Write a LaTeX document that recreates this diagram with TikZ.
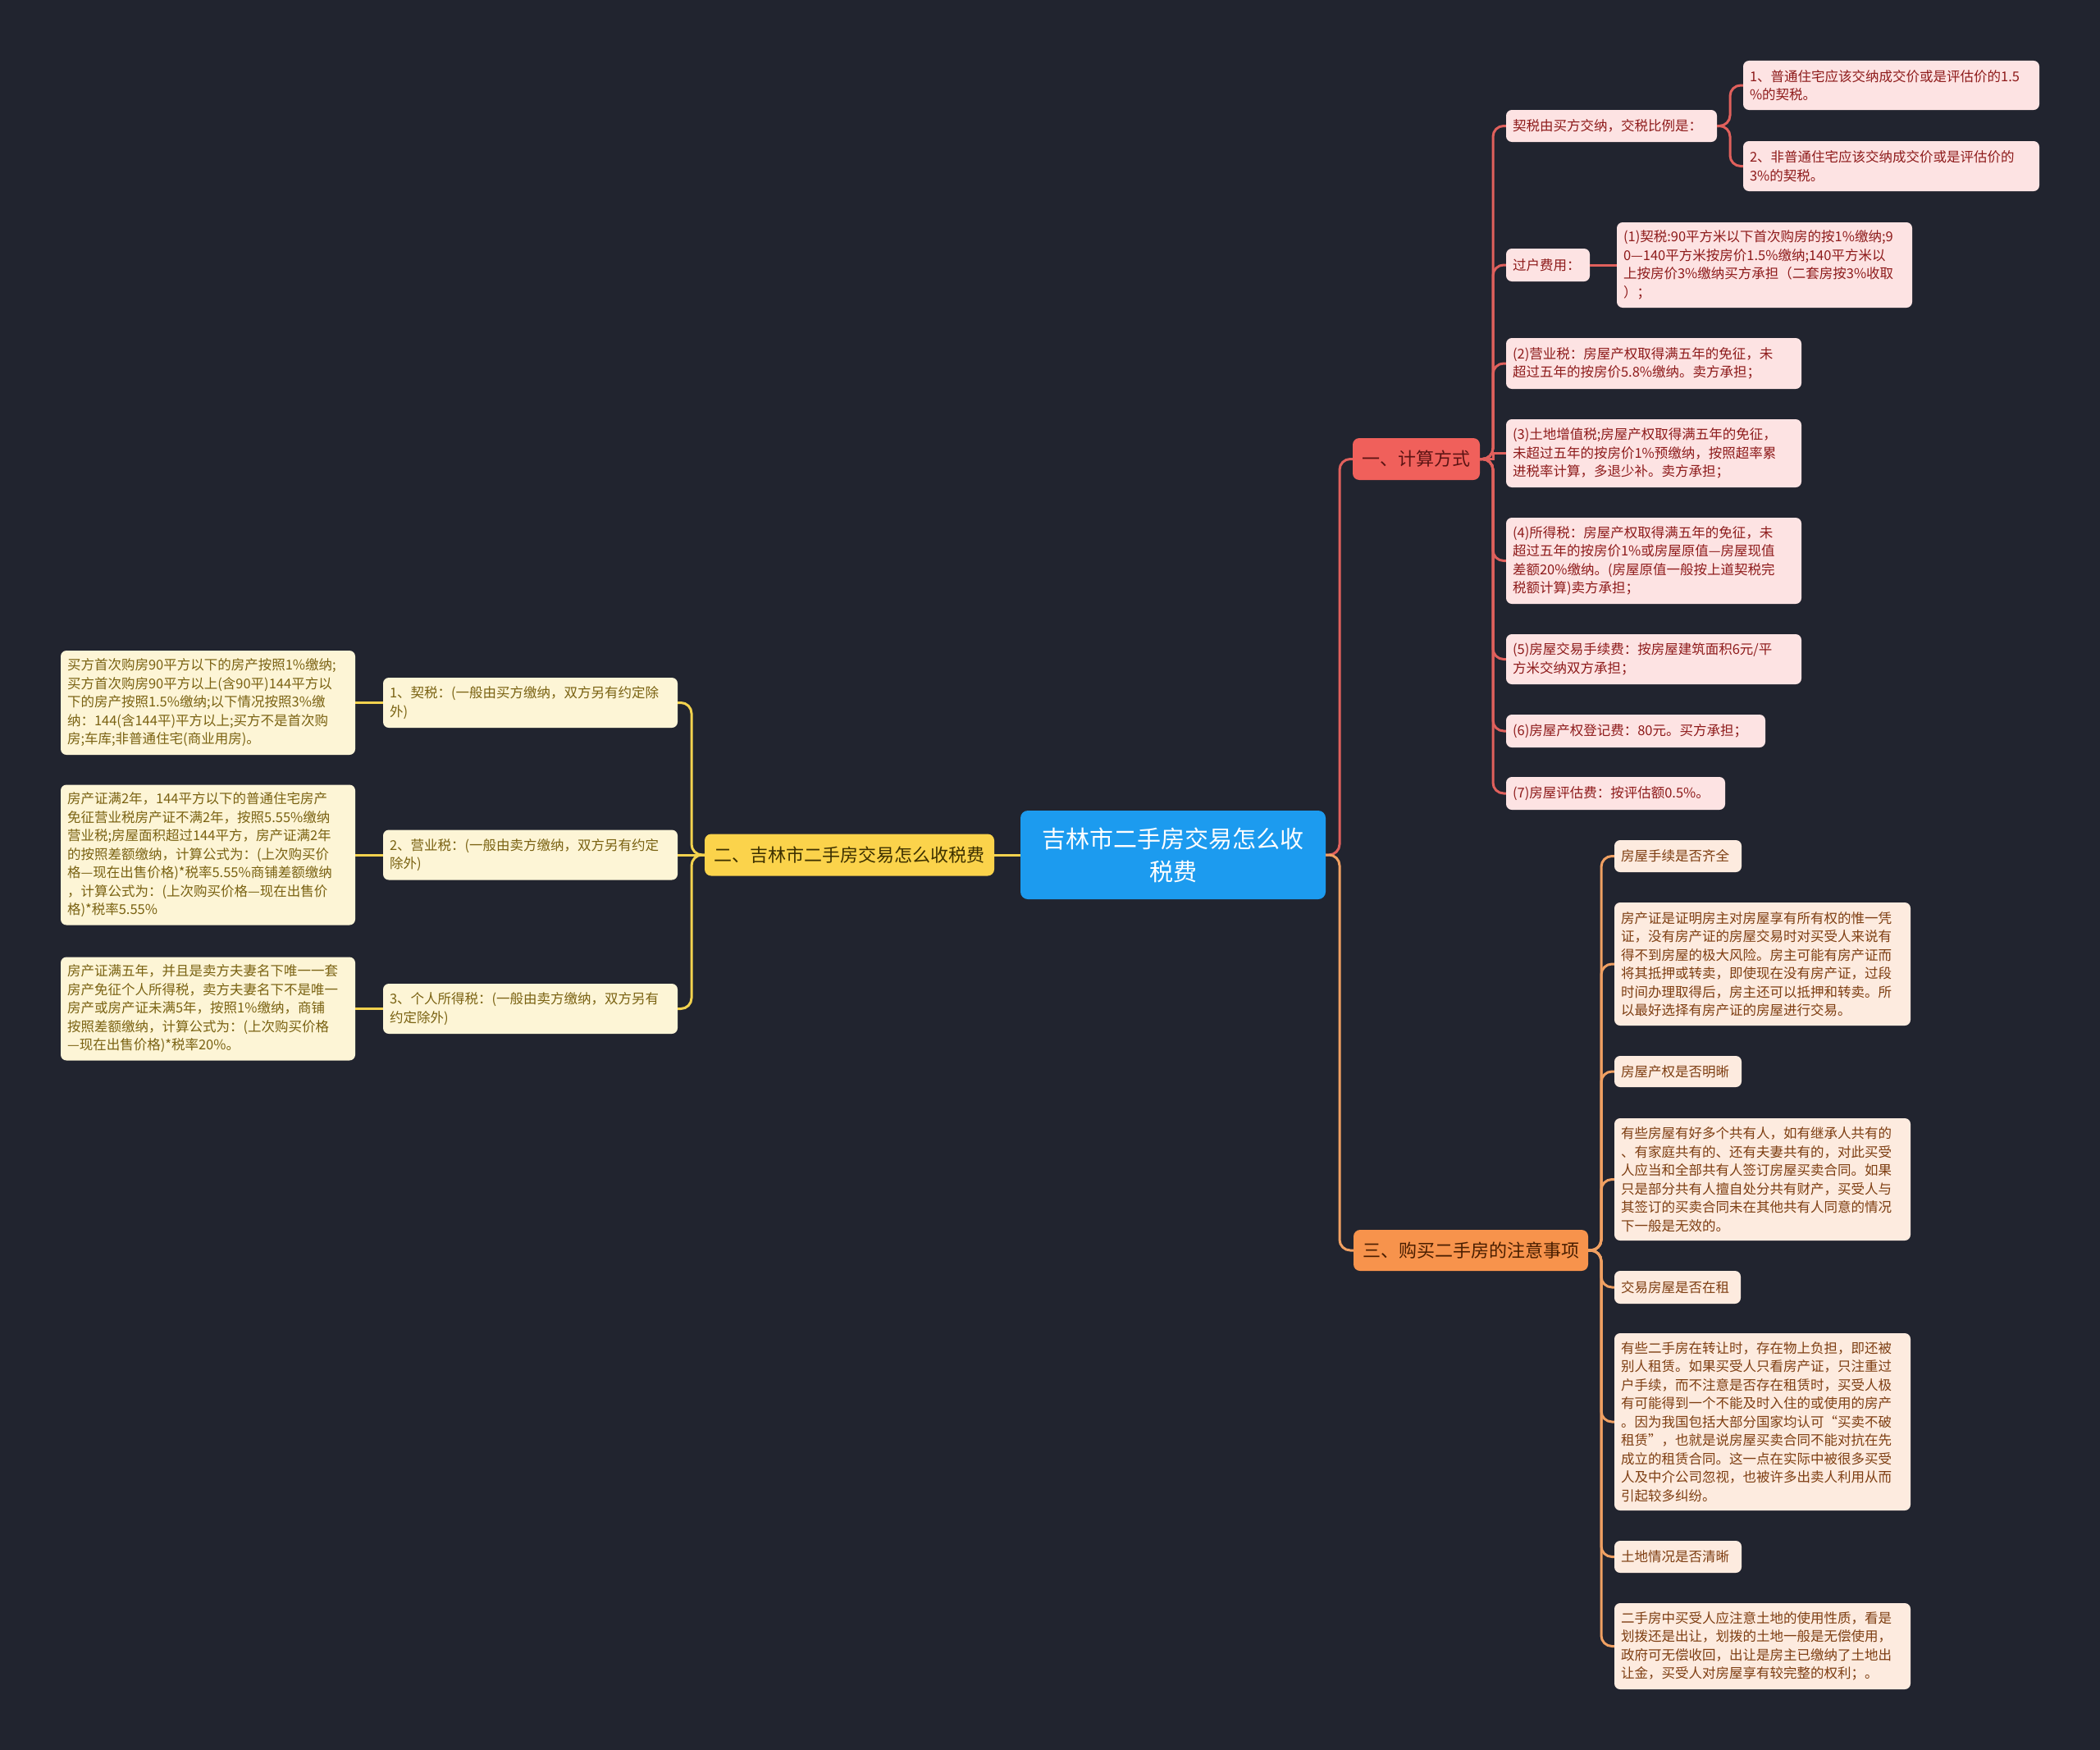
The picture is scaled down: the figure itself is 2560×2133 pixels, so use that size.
\documentclass[tikz,border=0pt]{standalone}
\usepackage{fontspec}
\setmainfont{Liberation Serif}
\newfontfamily\cjk{Noto Sans CJK SC}
\usetikzlibrary{calc}
\definecolor{bgc}{HTML}{21242F}
\definecolor{rootfill}{HTML}{1C9BEF}
\definecolor{bafill}{HTML}{F0605B}
\definecolor{batext}{HTML}{5C1414}
\definecolor{redln}{HTML}{E0605C}
\definecolor{cafill}{HTML}{FDE3E3}
\definecolor{catext}{HTML}{8E1B1B}
\definecolor{bbfill}{HTML}{FBD34B}
\definecolor{bbtext}{HTML}{3D3000}
\definecolor{yelln}{HTML}{F2D24E}
\definecolor{cbfill}{HTML}{FDF5D6}
\definecolor{cbtext}{HTML}{7A6212}
\definecolor{bcfill}{HTML}{F7934C}
\definecolor{bctext}{HTML}{4A1E00}
\definecolor{oraln}{HTML}{F0A062}
\definecolor{ccfill}{HTML}{FDEBDF}
\definecolor{cctext}{HTML}{7E3E12}
\tikzset{
  basebox/.style={rounded corners=7, inner xsep=8pt, inner ysep=0pt, align=left,
    font=\cjk\fontsize{16.5}{22.5}\selectfont},
  pinkbox/.style={basebox, fill=cafill, text=catext},
  creambox/.style={basebox, fill=cbfill, text=cbtext},
  peachbox/.style={basebox, fill=ccfill, text=cctext},
  branchbox/.style={rounded corners=8, inner xsep=10pt, inner ysep=0pt, align=center,
    font=\cjk\fontsize{22}{28}\selectfont},
  rootbox/.style={rounded corners=9, fill=rootfill, text=white, align=center,
    font=\cjk\fontsize{29}{40}\selectfont},
  conn/.style={line width=3pt, rounded corners=13},
  redconn/.style={conn, draw=redln},
  yelconn/.style={conn, draw=yelln},
  oraconn/.style={conn, draw=oraln}
}
\begin{document}
\begin{tikzpicture}[x=1pt,y=-1pt]
\fill[bgc] (0,0) rectangle (2560,2133);
\useasboundingbox (0,0) rectangle (2560,2133);

% root
\node[rootbox, minimum width=372, minimum height=108] (root) at (1430,1042)
  {吉林市二手房交易怎么收\\税费};

% branches
\node[branchbox, fill=bafill, text=batext, minimum width=155, minimum height=51] (b1) at (1726.5,559.5) {一、计算方式};
\node[branchbox, fill=bbfill, text=bbtext, minimum width=353, minimum height=51] (b2) at (1035.5,1042) {二、吉林市二手房交易怎么收税费};
\node[branchbox, fill=bcfill, text=bctext, minimum width=286, minimum height=50] (b3) at (1793,1524) {三、购买二手房的注意事项};

% branch 1 children
\node[pinkbox, minimum width=257, minimum height=39, text width=241] (c11) at (1964.5,153.5) {契税由买方交纳，交税比例是：};
\node[pinkbox, minimum width=361, minimum height=60, text width=345] (g111) at (2305.5,104) {1、普通住宅应该交纳成交价或是评估价的1.5\\\%的契税。};
\node[pinkbox, minimum width=361, minimum height=61, text width=345] (g112) at (2305.5,202.5) {2、非普通住宅应该交纳成交价或是评估价的\\3\%的契税。};
\node[pinkbox, minimum width=102, minimum height=40, text width=86] (c12) at (1887,323) {过户费用：};
\node[pinkbox, minimum width=360, minimum height=104, text width=344] (g121) at (2151,323) {(1)契税:90平方米以下首次购房的按1\%缴纳;9\\0—140平方米按房价1.5\%缴纳;140平方米以\\上按房价3\%缴纳买方承担（二套房按3\%收取\\）；};
\node[pinkbox, minimum width=360, minimum height=62, text width=344] (c13) at (2016,443) {(2)营业税：房屋产权取得满五年的免征，未\\超过五年的按房价5.8\%缴纳。卖方承担；};
\node[pinkbox, minimum width=360, minimum height=83, text width=344] (c14) at (2016,552.5) {(3)土地增值税;房屋产权取得满五年的免征，\\未超过五年的按房价1\%预缴纳，按照超率累\\进税率计算，多退少补。卖方承担；};
\node[pinkbox, minimum width=360, minimum height=105, text width=344] (c15) at (2016,683.5) {(4)所得税：房屋产权取得满五年的免征，未\\超过五年的按房价1\%或房屋原值—房屋现值\\差额20\%缴纳。(房屋原值一般按上道契税完\\税额计算)卖方承担；};
\node[pinkbox, minimum width=360, minimum height=61, text width=344] (c16) at (2016,803.5) {(5)房屋交易手续费：按房屋建筑面积6元/平\\方米交纳双方承担；};
\node[pinkbox, minimum width=316, minimum height=40, text width=300] (c17) at (1994,891) {(6)房屋产权登记费：80元。买方承担；};
\node[pinkbox, minimum width=267, minimum height=40, text width=251] (c18) at (1969.5,967) {(7)房屋评估费：按评估额0.5\%。};

% branch 2 children
\node[creambox, minimum width=359, minimum height=61, text width=343] (m1) at (646.5,856.5) {1、契税：(一般由买方缴纳，双方另有约定除\\外)};
\node[creambox, minimum width=359, minimum height=61, text width=343] (m2) at (646.5,1042) {2、营业税：(一般由卖方缴纳，双方另有约定\\除外)};
\node[creambox, minimum width=359, minimum height=61, text width=343] (m3) at (646.5,1229.5) {3、个人所得税：(一般由卖方缴纳，双方另有\\约定除外)};
\node[creambox, minimum width=359, minimum height=127, text width=343] (l1) at (253.5,856.5) {买方首次购房90平方以下的房产按照1\%缴纳;\\买方首次购房90平方以上(含90平)144平方以\\下的房产按照1.5\%缴纳;以下情况按照3\%缴\\纳：144(含144平)平方以上;买方不是首次购\\房;车库;非普通住宅(商业用房)。};
\node[creambox, minimum width=359, minimum height=171, text width=343] (l2) at (253.5,1042) {房产证满2年，144平方以下的普通住宅房产\\免征营业税房产证不满2年，按照5.55\%缴纳\\营业税;房屋面积超过144平方，房产证满2年\\的按照差额缴纳，计算公式为：(上次购买价\\格—现在出售价格)*税率5.55\%商铺差额缴纳\\，计算公式为：(上次购买价格—现在出售价\\格)*税率5.55\%};
\node[creambox, minimum width=359, minimum height=126, text width=343] (l3) at (253.5,1229.5) {房产证满五年，并且是卖方夫妻名下唯一一套\\房产免征个人所得税，卖方夫妻名下不是唯一\\房产或房产证未满5年，按照1\%缴纳，商铺\\按照差额缴纳，计算公式为：(上次购买价格\\—现在出售价格)*税率20\%。};

% branch 3 children
\node[peachbox, minimum width=155, minimum height=39, text width=139] (d1) at (2045.5,1043.5) {房屋手续是否齐全};
\node[peachbox, minimum width=361, minimum height=150, text width=345] (d2) at (2148.5,1175) {房产证是证明房主对房屋享有所有权的惟一凭\\证，没有房产证的房屋交易时对买受人来说有\\得不到房屋的极大风险。房主可能有房产证而\\将其抵押或转卖，即使现在没有房产证，过段\\时间办理取得后，房主还可以抵押和转卖。所\\以最好选择有房产证的房屋进行交易。};
\node[peachbox, minimum width=155, minimum height=38, text width=139] (d3) at (2045.5,1306) {房屋产权是否明晰};
\node[peachbox, minimum width=361, minimum height=149, text width=345] (d4) at (2148.5,1437.5) {有些房屋有好多个共有人，如有继承人共有的\\、有家庭共有的、还有夫妻共有的，对此买受\\人应当和全部共有人签订房屋买卖合同。如果\\只是部分共有人擅自处分共有财产，买受人与\\其签订的买卖合同未在其他共有人同意的情况\\下一般是无效的。};
\node[peachbox, minimum width=154, minimum height=40, text width=138] (d5) at (2045,1569) {交易房屋是否在租};
\node[peachbox, minimum width=361, minimum height=216, text width=345] (d6) at (2148.5,1733) {有些二手房在转让时，存在物上负担，即还被\\别人租赁。如果买受人只看房产证，只注重过\\户手续，而不注意是否存在租赁时，买受人极\\有可能得到一个不能及时入住的或使用的房产\\。因为我国包括大部分国家均认可“买卖不破\\租赁”，也就是说房屋买卖合同不能对抗在先\\成立的租赁合同。这一点在实际中被很多买受\\人及中介公司忽视，也被许多出卖人利用从而\\引起较多纠纷。};
\node[peachbox, minimum width=155, minimum height=39, text width=139] (d7) at (2045.5,1897.5) {土地情况是否清晰};
\node[peachbox, minimum width=361, minimum height=105, text width=345] (d8) at (2148.5,2006.5) {二手房中买受人应注意土地的使用性质，看是\\划拨还是出让，划拨的土地一般是无偿使用，\\政府可无偿收回，出让是房主已缴纳了土地出\\让金，买受人对房屋享有较完整的权利；。};

% trunk coordinates
\coordinate (t0) at (1633,1042);
\coordinate (t1) at (1820,559.5);
\coordinate (t11) at (2109,153.5);
\coordinate (t2) at (843,1042);
\coordinate (t3) at (1952,1524);

% connectors root
\draw[yelconn] (root.west) -- (b2.east);
\draw[redconn] (root.east) -- (t0) |- (b1.west);
\draw[oraconn] (root.east) -- (t0) |- (b3.west);

% connectors branch 1
\foreach \c in {c11,c12,c13,c15,c16,c17,c18}
  \draw[redconn] (b1.east) -- (t1) |- (\c.west);
\draw[line width=3pt, draw=redln] (b1.east) -- (t1) -- (t1 |- c14.west) -- (c14.west);
\draw[redconn] (c11.east) -- (t11) |- (g111.west);
\draw[redconn] (c11.east) -- (t11) |- (g112.west);
\draw[redconn] (c12.east) -- (g121.west);

% connectors branch 2
\draw[yelconn] (b2.west) -- (t2) |- (m1.east);
\draw[yelconn] (b2.west) -- (m2.east);
\draw[yelconn] (b2.west) -- (t2) |- (m3.east);
\draw[yelconn] (m1.west) -- (l1.east);
\draw[yelconn] (m2.west) -- (l2.east);
\draw[yelconn] (m3.west) -- (l3.east);

% connectors branch 3
\foreach \c in {d1,d2,d3,d4,d5,d6,d7,d8}
  \draw[oraconn] (b3.east) -- (t3) |- (\c.west);
\end{tikzpicture}
\end{document}
